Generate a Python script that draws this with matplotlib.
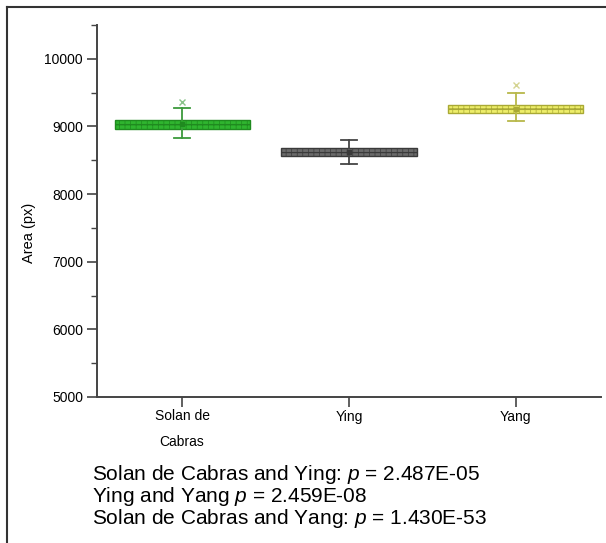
import matplotlib
matplotlib.use('Agg')
import matplotlib.pyplot as plt
import matplotlib.lines as mlines
import numpy as np

plt.rcParams['font.family'] = ['Liberation Sans', 'DejaVu Sans']
plt.rcParams['mathtext.fontset'] = 'custom'
plt.rcParams['mathtext.it'] = 'Liberation Sans:italic'
plt.rcParams['mathtext.rm'] = 'Liberation Sans'
plt.rcParams['hatch.linewidth'] = 0.5

# data
groups = ['Solan de\nCabras', 'Ying', 'Yang']
q1 = [8964, 8565, 9201]
q3 = [9098, 8683, 9320]
medians = [9030, 8624, 9260]
means = [9032, 8626, 9262]
whisk_lo = [8831, 8447, 9083]
whisk_hi = [9275, 8802, 9498]
extremes = [[9364], [], [9620]]

pvalue_lines = ['Solan de Cabras and Ying: $p$ = 2.487E-05',
                'Ying and Yang $p$ = 2.459E-08',
                'Solan de Cabras and Yang: $p$ = 1.430E-53']

# colors
fills = ['#2fb52f', '#6a6a6a', '#eeee6a']
edges = ['#1f8a1f', '#3a3a3a', '#a9a935']
whisk_colors = ['#3c9a3c', '#454545', '#b8b84a']

fig = plt.figure(figsize=(6.06, 5.43), dpi=100)
ax = fig.add_axes([97/606, 1-397/543, (601-97)/606, (397-25)/543])

stats = []
for i in range(len(groups)):
    stats.append(dict(med=medians[i], q1=q1[i], q3=q3[i], whislo=whisk_lo[i],
                      whishi=whisk_hi[i], mean=means[i], fliers=extremes[i], label=groups[i]))

for i in range(len(stats)):
    ax.bxp([stats[i]], positions=[i+1], widths=0.81, patch_artist=True, showmeans=True,
           boxprops=dict(facecolor=fills[i], edgecolor=edges[i], linewidth=1.0, hatch='+++'),
           medianprops=dict(color=edges[i], linewidth=0.8),
           whiskerprops=dict(color=whisk_colors[i], linewidth=1.3),
           capprops=dict(color=whisk_colors[i], linewidth=1.3),
           capwidths=0.1,
           meanprops=dict(marker='s', markersize=3, markerfacecolor=edges[i], markeredgecolor=edges[i]),
           flierprops=dict(marker='x', markersize=4, markeredgecolor=whisk_colors[i], alpha=0.6))

ax.set_xlim(0.49, 3.51)
ax.set_ylim(5000, 10500)
ax.set_xticks([1, 2, 3])
ax.set_xticklabels(groups, linespacing=2.0)
ax.set_yticks(np.arange(5000, 10001, 1000))
ax.set_yticks(np.arange(5500, 10501, 1000), minor=True)

for s in ['top', 'right']:
    ax.spines[s].set_visible(False)
for s in ['left', 'bottom']:
    ax.spines[s].set_linewidth(1.4)
    ax.spines[s].set_color('#444444')
ax.tick_params(axis='both', which='major', direction='out', length=7, width=1.2,
               color='#444444', labelsize=10, pad=3)
ax.tick_params(axis='y', which='minor', direction='out', length=4, width=1.0, color='#444444')
ax.tick_params(axis='x', pad=2)

ax.set_ylabel('Area (px)', fontsize=10.5)
ax.yaxis.set_label_coords(-0.121, 0.44)

# outer frame of the panel
fig.add_artist(mlines.Line2D([7/606, 7/606], [0, 1-7/543], color='#333333', lw=1.5))
fig.add_artist(mlines.Line2D([7/606, 1], [1-7/543, 1-7/543], color='#333333', lw=1.5))

# p value notes
for k, line in enumerate(pvalue_lines):
    fig.text(92/606, 1-(475+22*k)/543, line, fontsize=15, va='center', ha='left')

plt.savefig('out.png', dpi=100)
